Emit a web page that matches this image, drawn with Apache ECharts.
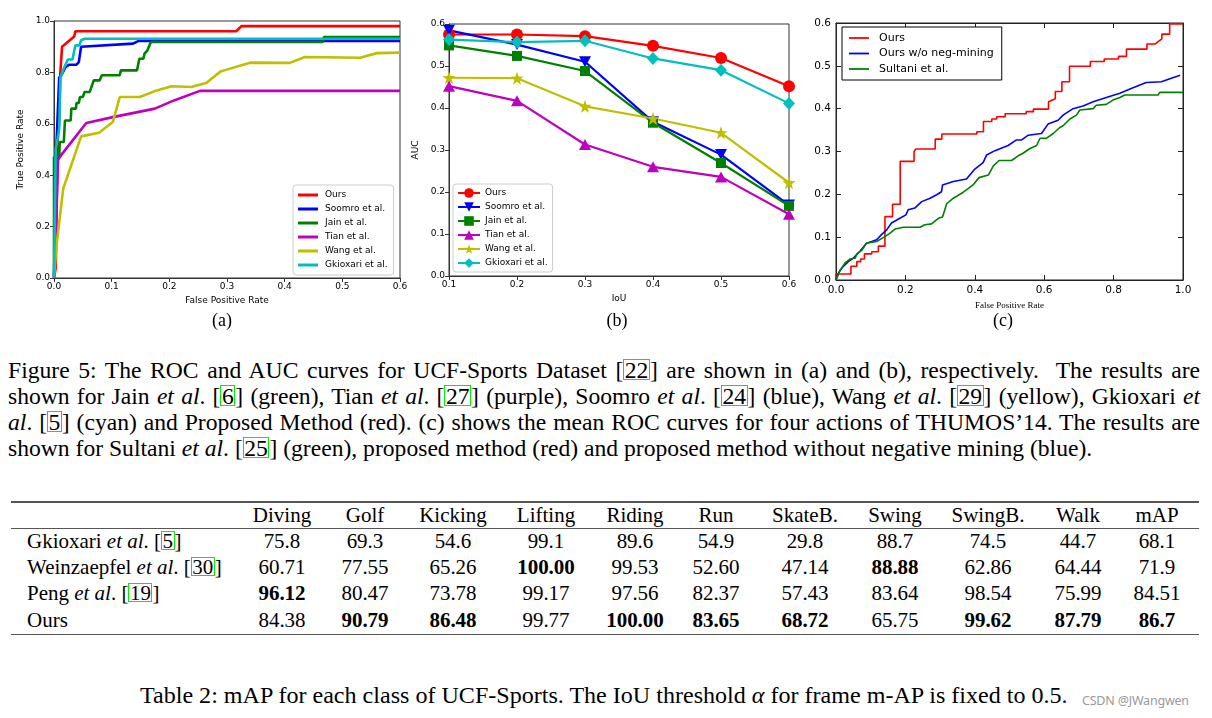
<!DOCTYPE html>
<html>
<head>
<meta charset="utf-8">
<script src="https://cdn.jsdelivr.net/npm/echarts@6/dist/echarts.min.js"></script>
<style>
  html,body{margin:0;padding:0;background:#fff;}
  body{width:1212px;height:718px;position:relative;overflow:hidden;font-family:"Liberation Serif","Times New Roman",serif;color:#000;font-size:21px;}
  .chart{position:absolute;top:0;height:330px;}
  .sub{position:absolute;font-size:18px;line-height:20px;text-align:center;width:40px;}
  .ln{position:absolute;left:8px;width:1192px;height:26px;line-height:26px;text-align:justify;text-align-last:justify;}
  .ln.last{text-align-last:left;}
  .c{display:inline-block;border:1.3px solid #00f000;padding:1px 0.5px 0 0.5px;line-height:0.78em;}
  .cell{position:absolute;width:110px;margin-left:-55px;text-align:center;height:26px;line-height:26px;}
  .rl{position:absolute;left:27px;height:26px;line-height:26px;white-space:nowrap;}
  .rule{position:absolute;left:11px;width:1188px;background:#555;}
</style>
</head>
<body>
<div id="ca" class="chart" style="left:0;width:410px;"></div>
<div id="cb" class="chart" style="left:405px;width:400px;"></div>
<div id="cc" class="chart" style="left:805px;width:407px;"></div>
<div class="sub" style="left:202px;top:310px;">(a)</div>
<div class="sub" style="left:597px;top:310px;">(b)</div>
<div class="sub" style="left:983px;top:310px;">(c)</div>
<div id="caption"></div>
<div id="table"></div>
<div id="tcap" style="position:absolute;left:140px;top:682px;height:26px;line-height:26px;white-space:nowrap;">Table 2: mAP for each class of UCF-Sports. The IoU threshold <i>α</i> for frame m-AP is fixed to 0.5.</div>
<div style="position:absolute;left:1082px;top:692px;font-family:'Noto Sans',sans-serif;font-size:12.5px;color:#9a9a9a;letter-spacing:-0.2px;white-space:nowrap;">CSDN @JWangwen</div>
<script>
// ---------------- DATA ----------------
// (a) ROC curves, UCF-Sports  [FPR, TPR]
var rocA_ours = [[0,0],[0.003,0.04],[0.006,0.04],[0.007,0.57],[0.009,0.6],[0.011,0.8],[0.013,0.8],[0.014,0.9],[0.035,0.94],[0.037,0.96],[0.316,0.96],[0.325,0.98],[0.6,0.98]];
var rocA_soomro = [[0,0],[0.004,0.5],[0.009,0.78],[0.013,0.79],[0.02,0.82],[0.026,0.83],[0.039,0.83],[0.043,0.84],[0.047,0.9],[0.137,0.912],[0.146,0.922],[0.6,0.922]];
var rocA_jain = [[0,0],[0,0.471],[0.009,0.471],[0.01,0.529],[0.017,0.529],[0.019,0.613],[0.029,0.613],[0.03,0.659],[0.038,0.659],[0.039,0.681],[0.043,0.681],[0.045,0.704],[0.05,0.704],[0.053,0.724],[0.062,0.724],[0.069,0.769],[0.079,0.769],[0.083,0.789],[0.114,0.789],[0.116,0.808],[0.144,0.808],[0.148,0.853],[0.155,0.853],[0.157,0.873],[0.162,0.886],[0.168,0.918],[0.466,0.918],[0.468,0.938],[0.6,0.938]];
var rocA_tian = [[0,0],[0.007,0.46],[0.012,0.477],[0.056,0.603],[0.102,0.626],[0.175,0.659],[0.207,0.69],[0.253,0.728],[0.6,0.728]];
var rocA_wang = [[0,0],[0.004,0.12],[0.016,0.348],[0.047,0.551],[0.078,0.565],[0.102,0.607],[0.114,0.704],[0.149,0.704],[0.178,0.73],[0.204,0.746],[0.238,0.743],[0.264,0.759],[0.289,0.804],[0.34,0.838],[0.409,0.837],[0.435,0.86],[0.531,0.857],[0.56,0.875],[0.6,0.877]];
var rocA_gkioxari = [[0,0],[0.003,0.5],[0.009,0.58],[0.011,0.78],[0.018,0.82],[0.024,0.85],[0.032,0.85],[0.037,0.905],[0.044,0.905],[0.047,0.925],[0.053,0.931],[0.6,0.931]];

// (b) AUC vs IoU
var iouVals = [0.1,0.2,0.3,0.4,0.5,0.6];
var aucB_ours = [0.575,0.575,0.571,0.548,0.519,0.452];
var aucB_soomro = [0.585,0.551,0.51,0.367,0.289,0.169];
var aucB_jain = [0.549,0.524,0.488,0.365,0.269,0.167];
var aucB_tian = [0.452,0.417,0.313,0.26,0.236,0.147];
var aucB_wang = [0.472,0.471,0.404,0.375,0.341,0.222];
var aucB_gkioxari = [0.563,0.557,0.56,0.518,0.49,0.411];

// (c) mean ROC, THUMOS'14
var rocC_ours = [[0,0],[0,0.014],[0.043,0.014],[0.043,0.032],[0.06,0.032],[0.06,0.043],[0.071,0.043],[0.071,0.049],[0.082,0.049],[0.082,0.061],[0.103,0.061],[0.103,0.066],[0.122,0.066],[0.122,0.079],[0.141,0.079],[0.141,0.148],[0.163,0.148],[0.163,0.177],[0.185,0.177],[0.185,0.277],[0.225,0.277],[0.225,0.3],[0.23,0.306],[0.286,0.306],[0.286,0.329],[0.305,0.329],[0.305,0.341],[0.406,0.341],[0.406,0.346],[0.425,0.346],[0.425,0.37],[0.449,0.37],[0.449,0.376],[0.463,0.376],[0.463,0.381],[0.4875,0.381],[0.4875,0.388],[0.548,0.388],[0.548,0.393],[0.569,0.393],[0.569,0.399],[0.6125,0.399],[0.6125,0.416],[0.632,0.423],[0.632,0.44],[0.651,0.44],[0.651,0.463],[0.673,0.463],[0.673,0.499],[0.733,0.499],[0.733,0.51],[0.773,0.51],[0.773,0.516],[0.814,0.516],[0.814,0.522],[0.837,0.522],[0.837,0.539],[0.896,0.539],[0.896,0.551],[0.92,0.551],[0.939,0.563],[0.939,0.574],[0.9615,0.574],[0.9615,0.598],[1.0,0.598]];
var rocC_noneg = [[0,0],[0.0067,0.016],[0.021,0.032],[0.0355,0.043],[0.05,0.051],[0.069,0.067],[0.088,0.086],[0.103,0.09],[0.117,0.094],[0.131,0.106],[0.146,0.117],[0.16,0.133],[0.184,0.144],[0.2015,0.152],[0.208,0.164],[0.227,0.168],[0.247,0.183],[0.271,0.191],[0.29,0.199],[0.304,0.206],[0.307,0.222],[0.338,0.23],[0.376,0.236],[0.4,0.259],[0.424,0.274],[0.434,0.292],[0.458,0.302],[0.496,0.314],[0.52,0.327],[0.535,0.327],[0.554,0.338],[0.592,0.342],[0.611,0.364],[0.64,0.373],[0.6545,0.385],[0.683,0.4],[0.712,0.406],[0.741,0.416],[0.779,0.426],[0.818,0.436],[0.856,0.449],[0.894,0.461],[0.938,0.463],[0.962,0.47],[0.992,0.478]];
var rocC_sultani = [[0,0],[0.0115,0.0225],[0.026,0.04],[0.04,0.049],[0.055,0.051],[0.06,0.061],[0.074,0.069],[0.088,0.086],[0.093,0.09],[0.117,0.09],[0.136,0.099],[0.155,0.109],[0.17,0.119],[0.194,0.123],[0.242,0.123],[0.256,0.129],[0.275,0.131],[0.295,0.144],[0.307,0.147],[0.319,0.178],[0.338,0.191],[0.367,0.205],[0.395,0.222],[0.412,0.239],[0.439,0.245],[0.453,0.266],[0.47,0.279],[0.506,0.279],[0.525,0.29],[0.539,0.296],[0.559,0.307],[0.578,0.314],[0.588,0.331],[0.607,0.331],[0.626,0.342],[0.645,0.356],[0.6545,0.36],[0.674,0.376],[0.693,0.385],[0.7025,0.397],[0.741,0.4],[0.75,0.408],[0.779,0.41],[0.798,0.42],[0.818,0.426],[0.832,0.432],[0.928,0.432],[0.933,0.438],[1.0,0.438]];

// Table 2
var tableColumns = ["Diving","Golf","Kicking","Lifting","Riding","Run","SkateB.","Swing","SwingB.","Walk","mAP"];
var tableRowNames = ["Gkioxari <i>et al</i>. [<span class='c'>5</span>]","Weinzaepfel <i>et al</i>. [<span class='c'>30</span>]","Peng <i>et al</i>. [<span class='c'>19</span>]","Ours"];
var rowGkioxari = ["75.8","69.3","54.6","99.1","89.6","54.9","29.8","88.7","74.5","44.7","68.1"];
var rowWeinzaepfel = ["60.71","77.55","65.26","100.00","99.53","52.60","47.14","88.88","62.86","64.44","71.9"];
var rowPeng = ["96.12","80.47","73.78","99.17","97.56","82.37","57.43","83.64","98.54","75.99","84.51"];
var rowOurs = ["84.38","90.79","86.48","99.77","100.00","83.65","68.72","65.75","99.62","87.79","86.7"];

// ---------------- CHARTS ----------------
var C = {r:'#ff0000', b:'#0000ff', g:'#008000', m:'#bf00bf', y:'#bfbf00', c:'#00bfbf'};
var sansTick = {fontFamily:'DejaVu Sans', fontSize:9, color:'#000'};
function f1(v){ return (Math.round(v*10)/10).toFixed(1); }

function axisA(opt){
  return Object.assign({
    type:'value', nameLocation:'middle',
    nameTextStyle:{fontFamily:'DejaVu Sans', fontSize:9, color:'#000'},
    axisLine:{show:true, onZero:false, lineStyle:{color:'#333', width:1}},
    axisTick:{show:true, length:4, inside:false, lineStyle:{color:'#333'}},
    axisLabel:Object.assign({formatter:f1, margin:4, hideOverlap:false, showMinLabel:true, showMaxLabel:true}, sansTick),
    splitLine:{show:false}
  }, opt);
}
function lineA(name, data, color){
  return {name:name, type:'line', data:data, symbol:'none', lineStyle:{color:color, width:2.6}, itemStyle:{color:color}, z:2, clip:true};
}
var namesAB = ['Ours','Soomro et al.','Jain et al.','Tian et al.','Wang et al.','Gkioxari et al.'];

var chartA = echarts.init(document.getElementById('ca'));
chartA.setOption({
  animation:false,
  grid:{left:54, top:21, width:346, height:257, show:true, borderColor:'#333', borderWidth:1, outerBoundsMode:'none', containLabel:false},
  xAxis:axisA({min:0, max:0.6, interval:0.1, name:'False Positive Rate', nameGap:17}),
  yAxis:axisA({min:0, max:1, interval:0.2, name:'True Positive Rate', nameGap:24}),
  legend:{orient:'vertical', left:293, top:185, itemWidth:20, itemHeight:3, itemGap:4,
    padding:[5,6,5,5], backgroundColor:'rgba(255,255,255,0.9)', borderColor:'#ccc', borderWidth:1, borderRadius:3,
    textStyle:{fontFamily:'DejaVu Sans', fontSize:9, color:'#000', lineHeight:10, padding:[0,0,0,2]},
    data:namesAB.map(function(n){ return {name:n, icon:'rect'}; })},
  series:[
    lineA('Ours', rocA_ours, C.r),
    lineA('Soomro et al.', rocA_soomro, C.b),
    lineA('Jain et al.', rocA_jain, C.g),
    lineA('Tian et al.', rocA_tian, C.m),
    lineA('Wang et al.', rocA_wang, C.y),
    lineA('Gkioxari et al.', rocA_gkioxari, C.c)
  ]
});

var starPath = 'path://M0,-10 L2.35,-3.24 L9.51,-3.09 L3.8,1.24 L5.88,8.09 L0,4 L-5.88,8.09 L-3.8,1.24 L-9.51,-3.09 L-2.35,-3.24 Z';
var downTri = 'path://M0,0 L10,0 L5,9 Z';
var upTri = 'path://M5,0 L10,9 L0,9 Z';
function pairs(vals){ return iouVals.map(function(x,i){ return [x, vals[i]]; }); }
function lineB(name, vals, color, symbol, size){
  return {name:name, type:'line', data:pairs(vals), symbol:symbol, symbolSize:size, showSymbol:true,
    lineStyle:{color:color, width:2.2}, itemStyle:{color:color, borderWidth:0}, clip:true};
}
var chartB = echarts.init(document.getElementById('cb'));
chartB.setOption({
  animation:false,
  grid:{left:44, top:24, width:340, height:252, show:true, borderColor:'#333', borderWidth:1, outerBoundsMode:'none', containLabel:false},
  xAxis:axisA({min:0.1, max:0.6, interval:0.1, name:'IoU', nameGap:17}),
  yAxis:axisA({min:0, max:0.6, interval:0.1, name:'AUC', nameGap:28}),
  legend:{orient:'vertical', left:48, top:184, itemWidth:22, itemHeight:12, itemGap:4,
    padding:[4,5,4,4], backgroundColor:'rgba(255,255,255,0.9)', borderColor:'#ccc', borderWidth:1, borderRadius:3,
    textStyle:{fontFamily:'DejaVu Sans', fontSize:9, color:'#000', lineHeight:10},
    data:namesAB},
  series:[
    lineB('Ours', aucB_ours, C.r, 'circle', 12),
    lineB('Soomro et al.', aucB_soomro, C.b, downTri, [12,11]),
    lineB('Jain et al.', aucB_jain, C.g, 'rect', 10),
    lineB('Tian et al.', aucB_tian, C.m, upTri, [12,11]),
    lineB('Wang et al.', aucB_wang, C.y, starPath, 13),
    lineB('Gkioxari et al.', aucB_gkioxari, C.c, 'diamond', [12,13])
  ]
});

function axisC(opt, primary){
  return Object.assign({
    type:'value', nameLocation:'middle',
    nameTextStyle:{fontFamily:'Liberation Serif', fontSize:9, color:'#000'},
    axisLine:{show:true, onZero:false, lineStyle:{color:'#222', width:1}},
    axisTick:{show:true, length:5, inside:true, lineStyle:{color:'#222'}},
    axisLabel:{show:primary, formatter:f1, margin:5, fontFamily:'DejaVu Sans', fontSize:10.5, color:'#000', showMinLabel:true, showMaxLabel:true, hideOverlap:false},
    splitLine:{show:false}
  }, opt);
}
function lineC(name, data, color){
  return {name:name, type:'line', data:data, symbol:'none', lineStyle:{color:color, width:1.6}, itemStyle:{color:color}, clip:true};
}
var chartC = echarts.init(document.getElementById('cc'));
chartC.setOption({
  animation:false,
  grid:{left:31, top:23, width:347, height:257, show:true, borderColor:'#222', borderWidth:1, outerBoundsMode:'none', containLabel:false},
  xAxis:[axisC({min:0, max:1, interval:0.2, name:'False Positive Rate', nameGap:12, position:'bottom'}, true),
         axisC({min:0, max:1, interval:0.2, position:'top'}, false)],
  yAxis:[axisC({min:0, max:0.6, interval:0.1, name:'True Positive Rate', nameGap:27, position:'left'}, true),
         axisC({min:0, max:0.6, interval:0.1, position:'right'}, false)],
  legend:{orient:'vertical', left:37, top:27, itemWidth:20, itemHeight:1.8, itemGap:3.5,
    padding:[5,8,5,7], backgroundColor:'#fff', borderColor:'#000', borderWidth:1, borderRadius:0,
    textStyle:{fontFamily:'DejaVu Sans', fontSize:11, color:'#000', lineHeight:12, padding:[0,0,0,5]},
    data:['Ours','Ours w/o neg-mining','Sultani et al.'].map(function(n){ return {name:n, icon:'rect'}; })},
  series:[
    lineC('Ours', rocC_ours, C.r),
    lineC('Ours w/o neg-mining', rocC_noneg, C.b),
    lineC('Sultani et al.', rocC_sultani, C.g)
  ]
});

// ---------------- CAPTION & TABLE (text) ----------------
var capLines = [
  "Figure 5: The ROC and AUC curves for UCF-Sports Dataset [<span class='c'>22</span>] are shown in (a) and (b), respectively.&nbsp; The results are",
  "shown for Jain <i>et al</i>. [<span class='c'>6</span>] (green), Tian <i>et al</i>. [<span class='c'>27</span>] (purple), Soomro <i>et al</i>. [<span class='c'>24</span>] (blue), Wang <i>et al</i>. [<span class='c'>29</span>] (yellow), Gkioxari <i>et</i>",
  "<i>al</i>. [<span class='c'>5</span>] (cyan) and Proposed Method (red). (c) shows the mean ROC curves for four actions of THUMOS’14. The results are",
  "shown for Sultani <i>et al</i>. [<span class='c'>25</span>] (green), proposed method (red) and proposed method without negative mining (blue)."
];
function fitSize(html, target){
  var probe = document.createElement('span');
  probe.style.cssText = 'position:absolute;left:0;top:-200px;white-space:nowrap;font-size:20px;';
  probe.innerHTML = html;
  document.body.appendChild(probe);
  var s = 20 * target / probe.getBoundingClientRect().width;
  document.body.removeChild(probe);
  return Math.min(Math.max(s, 17), 25);
}
var fs = fitSize(capLines[3], 1085);
var capDiv = document.getElementById('caption');
capDiv.style.fontSize = fs.toFixed(2) + 'px';
var capTops = [357, 383, 409, 435];
var capHtml = '';
capLines.forEach(function(t,i){
  capHtml += '<div class="ln' + (i===3?' last':'') + '" style="top:' + capTops[i] + 'px;">' + t + '</div>';
});
capDiv.innerHTML = capHtml;

var tcap = document.getElementById('tcap');
tcap.style.fontSize = fitSize(tcap.innerHTML, 928).toFixed(2) + 'px';

var colX = [282,365,453,546,635,716,805,895,988,1078,1157];
var rowTops = [528,554,580,607];
var headTop = 502;
var rows = [rowGkioxari, rowWeinzaepfel, rowPeng, rowOurs];
var maxes = tableColumns.map(function(_,j){ return Math.max.apply(null, rows.map(function(r){ return parseFloat(r[j]); })); });
var tableDiv = document.getElementById('table');
tableDiv.style.fontSize = fitSize(tableRowNames[1], 195).toFixed(2) + 'px';
var h = '';
h += '<div class="rule" style="top:501px;height:1.6px;"></div>';
h += '<div class="rule" style="top:527.5px;height:1px;"></div>';
h += '<div class="rule" style="top:633.5px;height:1.6px;"></div>';
tableColumns.forEach(function(c,j){ h += '<div class="cell" style="left:'+colX[j]+'px;top:'+headTop+'px;">'+c+'</div>'; });
rows.forEach(function(r,i){
  h += '<div class="rl" style="top:'+rowTops[i]+'px;">'+tableRowNames[i]+'</div>';
  r.forEach(function(v,j){
    var b = parseFloat(v) === maxes[j];
    h += '<div class="cell" style="left:'+colX[j]+'px;top:'+rowTops[i]+'px;'+(b?'font-weight:bold;':'')+'">'+v+'</div>';
  });
});
tableDiv.innerHTML = h;
</script>
</body>
</html>
